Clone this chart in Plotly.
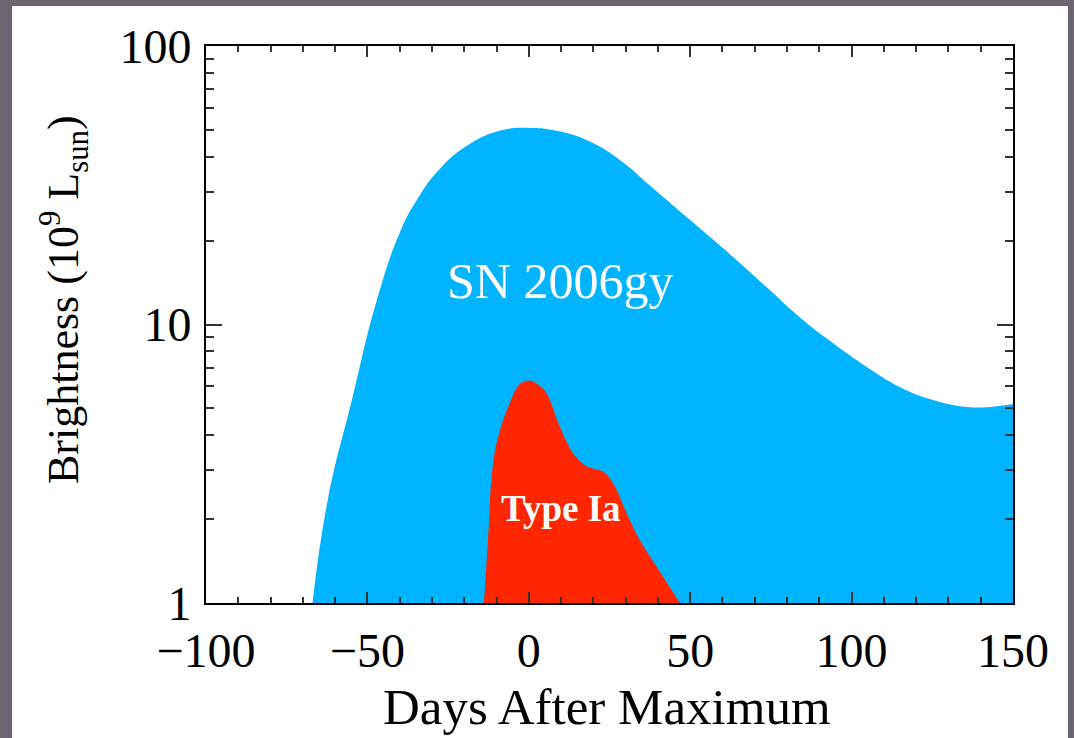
import plotly.graph_objects as go

# SN 2006gy light curve (days after maximum, brightness in 1e9 Lsun)
sn_days = [-67.0, -62.3, -54.8, -47.1, -40.0, -34.7, -27.6, -18.3, -8.1, 0.3, 7.4, 18.0,
           28.2, 38.4, 48.9, 63.2, 73.7, 84.0, 94.2, 104.7, 114.9, 125.2,
           135.7, 142.8, 150.0]
sn_vals = [1.0, 2.34, 5.36, 12.2, 21.3, 28.0, 36.2, 44.5, 49.9, 50.8, 49.9, 45.9,
           39.0, 30.9, 24.3, 17.5, 13.6, 10.6, 8.58, 7.04, 5.97, 5.36,
           5.06, 5.06, 5.18]

# Type Ia light curve
ia_days = [-13.9, -12.6, -11.3, -9.5, -5.9, -2.8, 0.3, 3.4, 5.5, 9.6, 13.7, 17.9, 23.0, 26.1,
           30.3, 34.4, 39.6, 46.8]
ia_vals = [1.0, 1.73, 3.0, 3.95, 5.23, 6.10, 6.29, 6.01, 5.66, 4.30, 3.45, 3.10, 2.96, 2.69,
           2.10, 1.68, 1.35, 1.0]

x_ticks = [-100, -50, 0, 50, 100, 150]
y_ticks = [1, 10, 100]
y_min = 1

BLUE = "#00B4FF"
RED = "#FF2600"
FONT = "Liberation Serif, Times New Roman, serif"

fig = go.Figure()
# baseline for blue fill
fig.add_trace(go.Scatter(x=[sn_days[0], sn_days[-1]], y=[y_min, y_min], mode="lines",
                         line=dict(width=0), hoverinfo="skip", showlegend=False))
fig.add_trace(go.Scatter(x=sn_days, y=sn_vals, mode="lines", fill="tonexty",
                         fillcolor=BLUE, line=dict(width=0, shape="spline", smoothing=1.3),
                         showlegend=False))
# baseline for red fill
fig.add_trace(go.Scatter(x=[ia_days[0], ia_days[-1]], y=[y_min, y_min], mode="lines",
                         line=dict(width=0), hoverinfo="skip", showlegend=False))
fig.add_trace(go.Scatter(x=ia_days, y=ia_vals, mode="lines", fill="tonexty",
                         fillcolor=RED, line=dict(width=0, shape="spline", smoothing=1.1),
                         showlegend=False))

W, H = 1074, 738
L, R, T, B = 206, 61, 46, 135
pw, ph = W - L - R, H - T - B

def px2paper_x(px):
    return (px - L) / pw

def px2paper_y(py):
    return (H - B - py) / ph

fig.add_shape(type="rect", xref="paper", yref="paper", layer="below",
              x0=px2paper_x(12), x1=px2paper_x(1068), y0=px2paper_y(740), y1=px2paper_y(6),
              fillcolor="white", line=dict(width=0))

fig.add_annotation(x=9.6, y=1.155, text="SN 2006gy", showarrow=False,
                   xanchor="center", yanchor="middle",
                   font=dict(family=FONT, size=50, color="white"))
fig.add_annotation(x=9.9, y=0.338, text="<b>Type Ia</b>", showarrow=False,
                   xanchor="center", yanchor="middle",
                   font=dict(family=FONT, size=37, color="white"))
fig.add_annotation(x=px2paper_x(607), y=px2paper_y(707), xref="paper", yref="paper",
                   xanchor="center", yanchor="middle",
                   text="Days After Maximum", showarrow=False,
                   font=dict(family=FONT, size=51, color="black"))
fig.add_annotation(x=px2paper_x(64), y=px2paper_y(300), xref="paper", yref="paper",
                   xanchor="center", yanchor="middle",
                   text="Brightness (10<sup>9</sup> L<sub>sun</sub>)", showarrow=False,
                   textangle=-90, font=dict(family=FONT, size=44, color="black"))

fig.update_layout(
    width=W, height=H,
    margin=dict(l=L, r=R, t=T, b=B, pad=0),
    paper_bgcolor="#6a6570",
    plot_bgcolor="white",
    font=dict(family=FONT, size=48, color="black"),
    xaxis=dict(range=[-100, 150], tickvals=x_ticks, ticktext=[str(v).replace("-", "\u2212") for v in x_ticks],
               showgrid=False, zeroline=False, showline=True, linecolor="black", linewidth=2,
               mirror="ticks", ticks="inside", ticklen=11, tickwidth=1.5, tickcolor="#333",
               ticklabelstandoff=4,
               minor=dict(dtick=10, ticks="inside", ticklen=6, tickwidth=1.5, tickcolor="#333", showgrid=False)),
    yaxis=dict(type="log", range=[0, 2], tickvals=y_ticks, ticktext=[str(v) for v in y_ticks],
               showgrid=False, zeroline=False, showline=True, linecolor="black", linewidth=2,
               mirror="ticks", ticks="inside", ticklen=16, tickwidth=1.5, tickcolor="#333",
               ticklabelstandoff=3,
               minor=dict(dtick="D1", ticks="inside", ticklen=8, tickwidth=1.5, tickcolor="#333", showgrid=False)),
)

fig.write_html("out.html")
